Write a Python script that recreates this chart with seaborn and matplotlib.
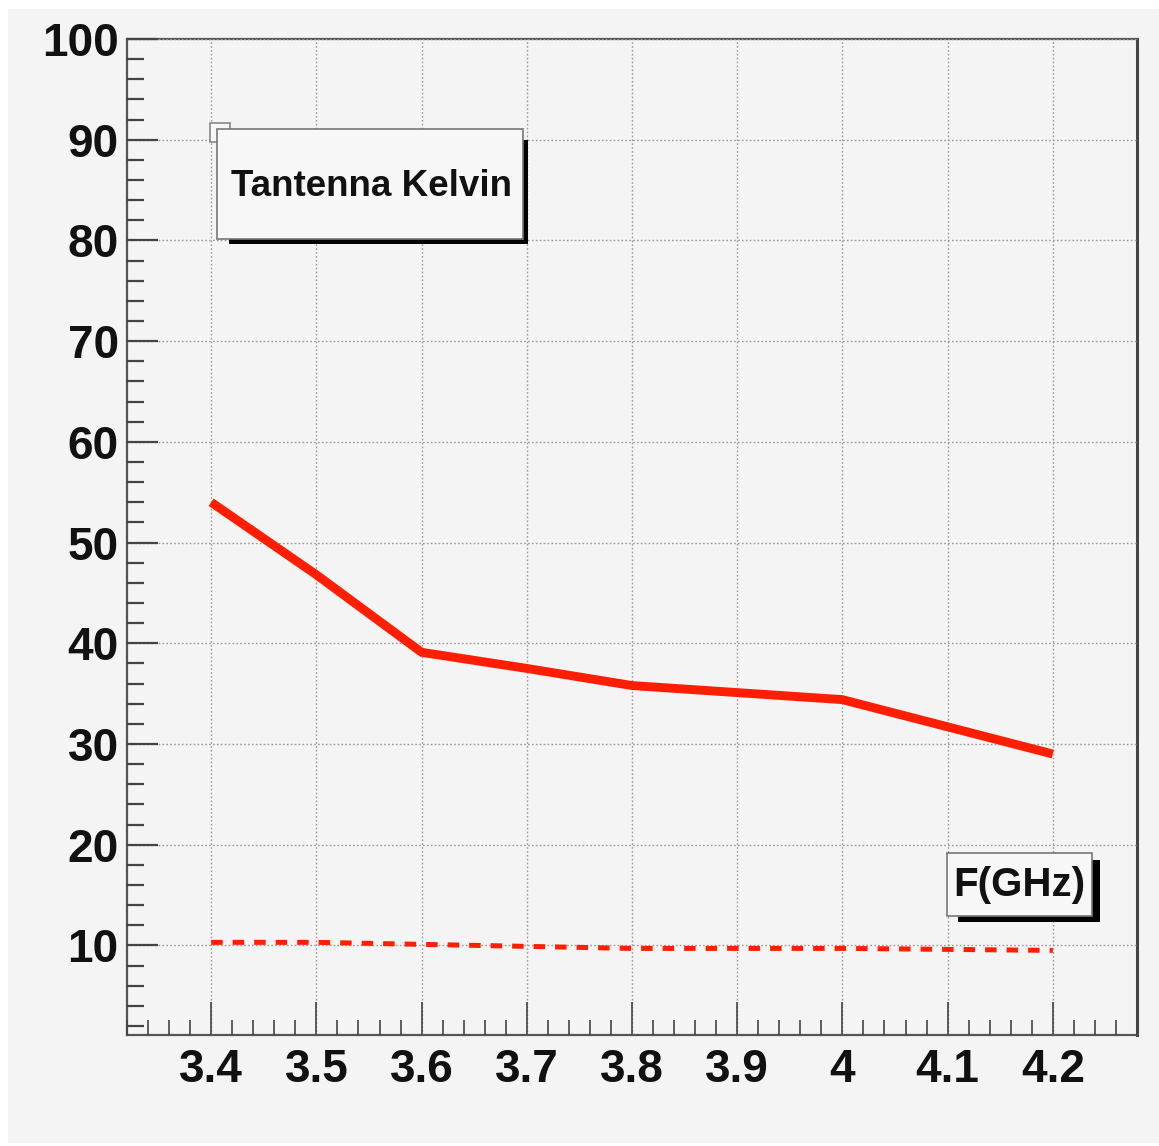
import numpy as np
import pandas as pd
import seaborn as sns
import matplotlib
matplotlib.use("Agg")
import matplotlib.pyplot as plt
from matplotlib.patches import Rectangle
from matplotlib.ticker import MultipleLocator, FixedLocator

# ---- data ----
freq_ghz = [3.4, 3.5, 3.6, 3.7, 3.8, 3.9, 4.0, 4.1, 4.2]
t_antenna = [54.0, 46.8, 39.1, 37.5, 35.8, 35.1, 34.4, 31.7, 29.0]
t_low = [10.3, 10.3, 10.1, 9.9, 9.7, 9.7, 9.7, 9.6, 9.5]
x_ticks = [3.4, 3.5, 3.6, 3.7, 3.8, 3.9, 4.0, 4.1, 4.2]
x_tick_labels = ["3.4", "3.5", "3.6", "3.7", "3.8", "3.9", "4", "4.1", "4.2"]
y_ticks = [10, 20, 30, 40, 50, 60, 70, 80, 90, 100]
legend_title = "Tantenna Kelvin"
x_title = "F(GHz)"

df = pd.DataFrame({"f": freq_ghz, "main": t_antenna, "low": t_low})

sns.set_style("white")
plt.rcParams["font.family"] = ["Liberation Sans", "DejaVu Sans"]

W, H = 1159, 1146
fig = plt.figure(figsize=(W / 100, H / 100), dpi=100)
fig.patch.set_facecolor("white")
bg = Rectangle((8 / W, 1 - 1143 / H), (W - 8) / W, (1143 - 9) / H,
               transform=fig.transFigure, facecolor="#f4f4f4", edgecolor="none", zorder=-10)
fig.add_artist(bg)

ax = fig.add_axes([127 / W, 1 - 1035 / H, (1137 - 127) / W, (1035 - 39) / H])
ax.set_facecolor("#f4f4f4")

red = "#ff1e00"
sns.lineplot(data=df, x="f", y="main", ax=ax, color=red, linewidth=6.4,
             solid_capstyle="butt", zorder=5)
sns.lineplot(data=df, x="f", y="low", ax=ax, color=red, linewidth=3.6, zorder=5)
low_line = ax.lines[-1]
low_line.set_linestyle((0, (2.3, 2.0)))
low_line.set_dash_capstyle("butt")

ax.set_xlim(3.32, 4.28)
ax.set_ylim(1.1, 100)
ax.set_xlabel("")
ax.set_ylabel("")

ax.xaxis.set_major_locator(FixedLocator(x_ticks))
ax.set_xticklabels(x_tick_labels)
ax.xaxis.set_minor_locator(MultipleLocator(0.02))
ax.yaxis.set_major_locator(FixedLocator(y_ticks))
ax.yaxis.set_minor_locator(MultipleLocator(2))

ax.tick_params(axis="both", which="both", direction="in", color="#444",
               top=False, right=False, bottom=True, left=True)
ax.tick_params(axis="x", which="major", length=24, width=1.2, pad=9,
               labelsize=33)
ax.tick_params(axis="x", which="minor", length=11, width=1.2)
ax.tick_params(axis="y", which="major", length=22, width=1.6, pad=6,
               labelsize=33)
ax.tick_params(axis="y", which="minor", length=12, width=1.6)
for lab in ax.get_xticklabels() + ax.get_yticklabels():
    lab.set_fontweight("bold")
    lab.set_color("#111")

ax.grid(True, which="major", color="#9a9a9a", linestyle=(0, (1.2, 1.6)), linewidth=1.0)
ax.set_axisbelow(False)
for gl in ax.get_xgridlines() + ax.get_ygridlines():
    gl.set_zorder(1)

for s in ["left", "bottom", "top"]:
    ax.spines[s].set_color("#555")
    ax.spines[s].set_linewidth(1.6)
ax.spines["right"].set_color("#444")
ax.spines["right"].set_linewidth(2.2)

# ---- text boxes (figure pixel geometry) ----
def frect(x0, y0, x1, y1, **kw):
    r = Rectangle((x0 / W, 1 - y1 / H), (x1 - x0) / W, (y1 - y0) / H,
                  transform=fig.transFigure, **kw)
    fig.add_artist(r)

# small square marker of legend
frect(210, 123, 230, 142, facecolor="#f7f7f7", edgecolor="#888", linewidth=1.2, zorder=20)
# legend shadow and box
frect(229, 140, 528, 244, facecolor="black", edgecolor="none", zorder=21)
frect(217, 129, 523, 239, facecolor="#f7f7f7", edgecolor="#777", linewidth=1.2, zorder=22)
fig.text((217 + 523) / 2 / W + 0.001, 1 - 187 / H, legend_title, ha="center", va="center",
         fontsize=26.5, fontweight="bold", color="#111", zorder=23)

# x title box
frect(958, 860, 1100, 922, facecolor="black", edgecolor="none", zorder=21)
frect(947, 853, 1092, 916, facecolor="#f7f7f7", edgecolor="#777", linewidth=1.2, zorder=22)
fig.text((947 + 1092) / 2 / W, 1 - 885 / H, x_title, ha="center", va="center",
         fontsize=29, fontweight="bold", color="#111", zorder=23)

fig.savefig("out.png", dpi=100, facecolor=fig.get_facecolor())
